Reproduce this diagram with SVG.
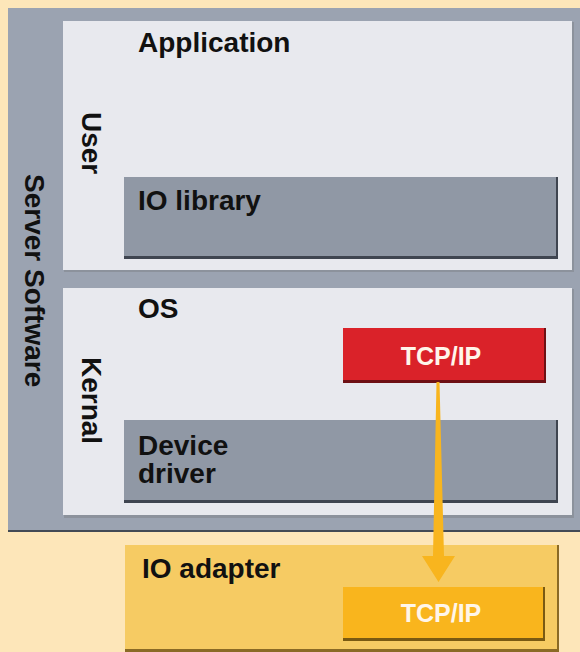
<svg xmlns="http://www.w3.org/2000/svg" width="580" height="652" viewBox="0 0 580 652">
  <style>
    .lbl { font-family: "Liberation Sans", Arial, Helvetica, sans-serif; font-weight: bold; fill: #111111; }
    .big { font-size: 28px; }
    .tcp { font-size: 25px; fill: #fff6ea; text-anchor: middle; }
    .panel { fill: #e8e9ee; }
    .panel-edge { fill: #8c929c; }
    .block { fill: #9098a5; }
    .block-edge { fill: #3f4550; }
  </style>

  <!-- page background -->
  <rect x="0" y="0" width="580" height="652" fill="#fde6b9"/>

  <!-- server software frame -->
  <g id="server-software">
    <rect x="8" y="9" width="572" height="523" fill="#434a55"/>
    <rect x="8" y="8" width="572" height="522" fill="#9ba3b1"/>
    <text class="lbl big" transform="translate(25,174) rotate(90)">Server Software</text>
  </g>

  <!-- user space panel -->
  <g id="user">
    <rect x="64" y="22" width="510" height="250" class="panel-edge"/>
    <rect x="63" y="21" width="509" height="249" class="panel"/>
    <text class="lbl big" transform="translate(82,112) rotate(90)">User</text>
    <text class="lbl big" x="138" y="52">Application</text>
  </g>

  <g id="io-library">
    <rect x="124" y="177" width="434" height="82" class="block-edge"/>
    <rect x="124" y="177" width="432" height="79" class="block"/>
    <text class="lbl big" x="138" y="210">IO library</text>
  </g>

  <!-- kernel panel -->
  <g id="kernal">
    <rect x="64" y="289" width="510" height="229" class="panel-edge"/>
    <rect x="63" y="288" width="509" height="227" class="panel"/>
    <text class="lbl big" transform="translate(82,357) rotate(90)">Kernal</text>
    <text class="lbl big" x="138" y="318">OS</text>
  </g>

  <g id="device-driver">
    <rect x="124" y="420" width="434" height="83" class="block-edge"/>
    <rect x="124" y="420" width="432" height="80" class="block"/>
    <text class="lbl big" x="138" y="455">Device</text>
    <text class="lbl big" x="138" y="483">driver</text>
  </g>

  <g id="tcpip-os">
    <rect x="343" y="328" width="203" height="55" fill="#6e1014"/>
    <rect x="343" y="328" width="201" height="52" fill="#da2229"/>
    <text class="lbl tcp" x="441" y="365">TCP/IP</text>
  </g>

  <!-- network adapter -->
  <g id="io-adapter">
    <rect x="125" y="545" width="434" height="107" fill="#8a6a25"/>
    <rect x="125" y="545" width="432" height="104" fill="#f6cb63"/>
    <text class="lbl big" x="142" y="578">IO adapter</text>
  </g>

  <g id="tcpip-adapter">
    <rect x="343" y="587" width="202" height="54" fill="#7a5a12"/>
    <rect x="343" y="587" width="200" height="51" fill="#f9b51d"/>
    <text class="lbl tcp" x="441" y="622">TCP/IP</text>
  </g>

  <g id="connectors">
    <path d="M436.5,382 L439.5,382 L444,556 L455,556 L438.5,582 L422,556 L433,556 Z" fill="#f8b51e"/>
  </g>
</svg>
